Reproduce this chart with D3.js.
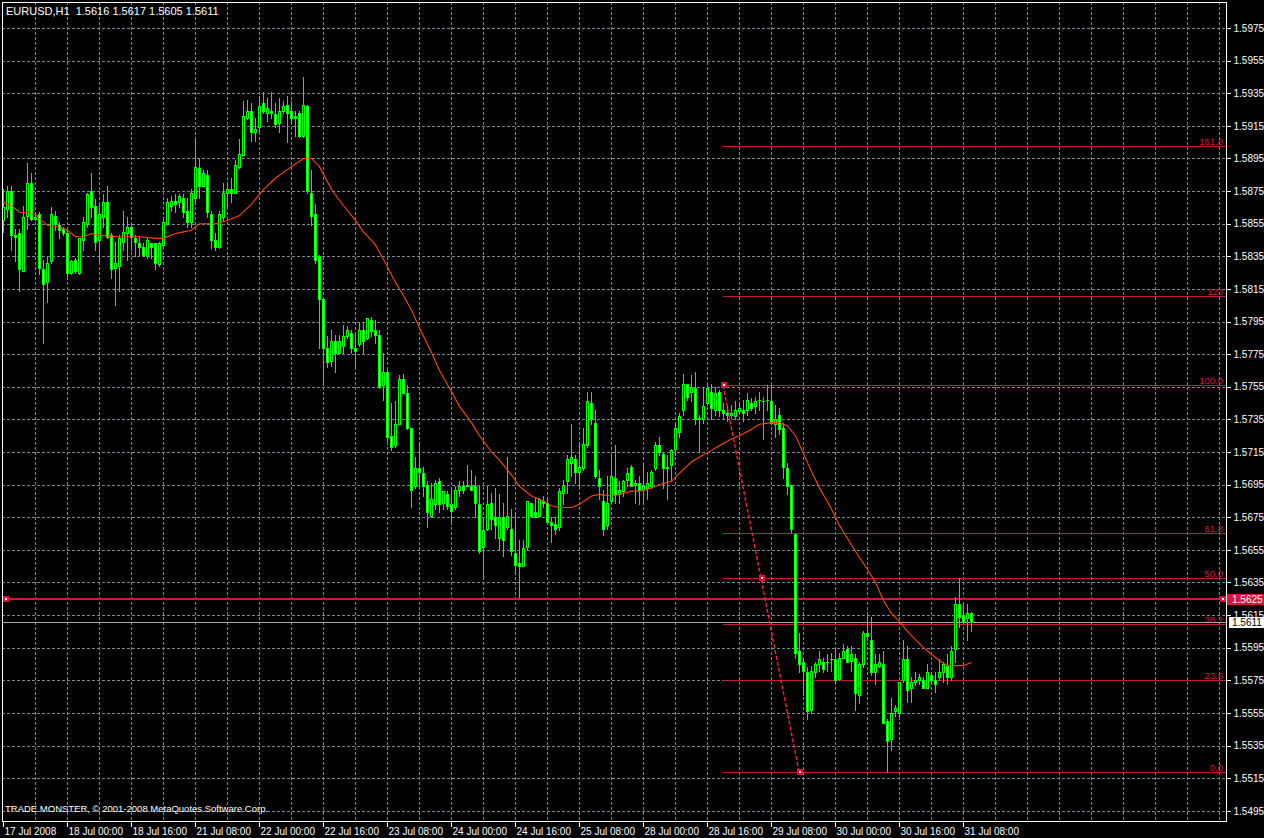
<!DOCTYPE html>
<html><head><meta charset="utf-8">
<script src="https://cdn.jsdelivr.net/npm/d3@7"></script>
<style>html,body{margin:0;padding:0;background:#000;overflow:hidden}svg{display:block}</style>
</head><body>
<script>
// ---- DATA (EURUSD H1, bars from 17 Jul 2008 08:00) ----
const opens=[1.5857,1.5864,1.5875,1.5848,1.5849,1.5826,1.5860,1.5880,1.5858,1.5861,
1.5827,1.5819,1.5832,1.5860,1.5854,1.5852,1.5849,1.5825,1.5833,1.5825,
1.5845,1.5855,1.5875,1.5866,1.5845,1.5859,1.5868,1.5848,1.5828,1.5829,
1.5844,1.5849,1.5853,1.5846,1.5843,1.5841,1.5835,1.5843,1.5843,1.5830,
1.5842,1.5855,1.5866,1.5869,1.5868,1.5871,1.5863,1.5856,1.5871,1.5889,
1.5878,1.5885,1.5861,1.5845,1.5841,1.5859,1.5874,1.5876,1.5874,1.5890,
1.5897,1.5920,1.5924,1.5911,1.5914,1.5929,1.5923,1.5924,1.5922,1.5917,
1.5924,1.5928,1.5924,1.5921,1.5923,1.5909,1.5927,1.5874,1.5861,1.5835,
1.5809,1.5779,1.5771,1.5783,1.5776,1.5780,1.5786,1.5788,1.5779,1.5781,
1.5790,1.5785,1.5796,1.5790,1.5787,1.5756,1.5764,1.5725,1.5719,1.5732,
1.5760,1.5751,1.5730,1.5694,1.5705,1.5702,1.5695,1.5676,1.5683,1.5697,
1.5684,1.5689,1.5683,1.5681,1.5692,1.5694,1.5694,1.5694,1.5694,1.5683,
1.5657,1.5668,1.5684,1.5675,1.5662,1.5675,1.5669,1.5668,1.5653,1.5647,
1.5645,1.5657,1.5684,1.5678,1.5676,1.5685,1.5684,1.5672,1.5671,1.5669,
1.5690,1.5697,1.5708,1.5711,1.5703,1.5705,1.5719,1.5745,1.5733,1.5699,
1.5685,1.5670,1.5685,1.5699,1.5689,1.5691,1.5698,1.5706,1.5695,1.5696,
1.5692,1.5693,1.5694,1.5705,1.5719,1.5714,1.5706,1.5707,1.5717,1.5727,
1.5741,1.5757,1.5752,1.5754,1.5736,1.5735,1.5745,1.5752,1.5741,1.5752,
1.5741,1.5739,1.5738,1.5737,1.5740,1.5741,1.5741,1.5745,1.5743,1.5747,
1.5746,1.5747,1.5746,1.5732,1.5738,1.5730,1.5705,1.5695,1.5665,1.5593,
1.5586,1.5580,1.5557,1.5580,1.5585,1.5586,1.5586,1.5588,1.5588,1.5576,
1.5589,1.5594,1.5587,1.5589,1.5566,1.5585,1.5604,1.5600,1.5580,1.5584,
1.5585,1.5550,1.5539,1.5556,1.5555,1.5575,1.5588,1.5570,1.5574,1.5575,
1.5575,1.5570,1.5578,1.5575,1.5577,1.5580,1.5584,1.5577,1.5594,1.5622,
1.5615,1.5613,1.5616];
const highs=[1.5876,1.5878,1.5878,1.5852,1.5852,1.5866,1.5892,1.5886,1.5861,1.5862,
1.5833,1.5835,1.5865,1.5863,1.5856,1.5853,1.5852,1.5833,1.5834,1.5846,
1.5859,1.5874,1.5886,1.5870,1.5867,1.5873,1.5878,1.5849,1.5844,1.5848,
1.5863,1.5859,1.5855,1.5848,1.5847,1.5843,1.5846,1.5843,1.5843,1.5844,
1.5859,1.5871,1.5872,1.5873,1.5873,1.5873,1.5871,1.5876,1.5907,1.5895,
1.5888,1.5888,1.5863,1.5849,1.5863,1.5880,1.5880,1.5883,1.5894,1.5907,
1.5930,1.5931,1.5929,1.5920,1.5933,1.5936,1.5932,1.5936,1.5929,1.5932,
1.5930,1.5933,1.5930,1.5924,1.5924,1.5945,1.5928,1.5888,1.5867,1.5836,
1.5809,1.5786,1.5790,1.5787,1.5787,1.5793,1.5792,1.5790,1.5788,1.5794,
1.5795,1.5797,1.5798,1.5796,1.5790,1.5776,1.5765,1.5745,1.5746,1.5762,
1.5763,1.5756,1.5730,1.5712,1.5721,1.5706,1.5697,1.5696,1.5698,1.5699,
1.5691,1.5691,1.5693,1.5694,1.5697,1.5697,1.5707,1.5704,1.5700,1.5694,
1.5675,1.5694,1.5690,1.5693,1.5689,1.5684,1.5712,1.5680,1.5678,1.5661,
1.5661,1.5685,1.5684,1.5687,1.5687,1.5688,1.5687,1.5675,1.5675,1.5693,
1.5698,1.5713,1.5732,1.5713,1.5721,1.5730,1.5752,1.5752,1.5741,1.5704,
1.5692,1.5700,1.5713,1.5719,1.5697,1.5698,1.5705,1.5707,1.5698,1.5700,
1.5707,1.5703,1.5704,1.5721,1.5724,1.5715,1.5713,1.5717,1.5732,1.5739,
1.5763,1.5757,1.5762,1.5764,1.5738,1.5755,1.5757,1.5757,1.5755,1.5753,
1.5745,1.5743,1.5744,1.5746,1.5745,1.5747,1.5751,1.5748,1.5749,1.5752,
1.5749,1.5756,1.5756,1.5744,1.5742,1.5733,1.5708,1.5695,1.5665,1.5604,
1.5588,1.5583,1.5584,1.5586,1.5593,1.5589,1.5591,1.5592,1.5594,1.5592,
1.5597,1.5596,1.5596,1.5591,1.5586,1.5605,1.5615,1.5614,1.5591,1.5591,
1.5593,1.5551,1.5564,1.5560,1.5574,1.5600,1.5596,1.5577,1.5580,1.5579,
1.5577,1.5585,1.5580,1.5580,1.5588,1.5586,1.5591,1.5596,1.5626,1.5638,
1.5622,1.5622,1.5617];
const lows=[1.5850,1.5859,1.5839,1.5832,1.5814,1.5826,1.5852,1.5857,1.5857,1.5824,
1.5782,1.5807,1.5831,1.5851,1.5846,1.5848,1.5821,1.5824,1.5825,1.5824,
1.5839,1.5853,1.5859,1.5839,1.5832,1.5853,1.5846,1.5822,1.5805,1.5814,
1.5839,1.5833,1.5839,1.5835,1.5835,1.5835,1.5834,1.5834,1.5827,1.5829,
1.5841,1.5855,1.5863,1.5862,1.5865,1.5859,1.5853,1.5853,1.5868,1.5871,
1.5878,1.5859,1.5840,1.5839,1.5840,1.5857,1.5866,1.5868,1.5874,1.5889,
1.5897,1.5919,1.5906,1.5906,1.5912,1.5923,1.5918,1.5920,1.5914,1.5911,
1.5923,1.5905,1.5917,1.5909,1.5908,1.5908,1.5874,1.5854,1.5831,1.5779,
1.5756,1.5767,1.5768,1.5764,1.5775,1.5776,1.5785,1.5776,1.5768,1.5780,
1.5776,1.5784,1.5786,1.5782,1.5754,1.5747,1.5722,1.5716,1.5718,1.5732,
1.5751,1.5729,1.5681,1.5693,1.5694,1.5688,1.5669,1.5675,1.5680,1.5678,
1.5680,1.5680,1.5673,1.5680,1.5688,1.5690,1.5694,1.5692,1.5675,1.5653,
1.5637,1.5667,1.5668,1.5662,1.5655,1.5651,1.5668,1.5652,1.5640,1.5626,
1.5645,1.5655,1.5675,1.5675,1.5675,1.5681,1.5672,1.5660,1.5665,1.5667,
1.5683,1.5690,1.5700,1.5696,1.5694,1.5704,1.5718,1.5732,1.5699,1.5686,
1.5664,1.5668,1.5684,1.5684,1.5684,1.5688,1.5694,1.5694,1.5684,1.5683,
1.5683,1.5686,1.5693,1.5704,1.5713,1.5693,1.5686,1.5698,1.5713,1.5724,
1.5738,1.5747,1.5746,1.5732,1.5715,1.5733,1.5744,1.5735,1.5738,1.5737,
1.5735,1.5734,1.5736,1.5735,1.5739,1.5734,1.5738,1.5741,1.5739,1.5741,
1.5723,1.5741,1.5733,1.5724,1.5726,1.5699,1.5689,1.5666,1.5589,1.5580,
1.5566,1.5551,1.5555,1.5577,1.5581,1.5580,1.5581,1.5581,1.5573,1.5575,
1.5589,1.5586,1.5581,1.5557,1.5561,1.5583,1.5600,1.5578,1.5573,1.5583,
1.5549,1.5519,1.5532,1.5553,1.5553,1.5574,1.5562,1.5562,1.5572,1.5573,
1.5570,1.5570,1.5573,1.5568,1.5575,1.5574,1.5573,1.5575,1.5586,1.5608,
1.5610,1.5600,1.5605];
const closes=[1.5865,1.5875,1.5848,1.5847,1.5827,1.5859,1.5880,1.5858,1.5859,1.5828,
1.5818,1.5831,1.5861,1.5855,1.5851,1.5849,1.5825,1.5832,1.5826,1.5846,
1.5856,1.5873,1.5865,1.5844,1.5861,1.5868,1.5847,1.5827,1.5831,1.5846,
1.5850,1.5853,1.5847,1.5844,1.5841,1.5836,1.5845,1.5841,1.5831,1.5843,
1.5856,1.5868,1.5869,1.5867,1.5872,1.5862,1.5856,1.5874,1.5890,1.5878,
1.5886,1.5862,1.5845,1.5841,1.5861,1.5874,1.5876,1.5874,1.5891,1.5898,
1.5921,1.5924,1.5911,1.5913,1.5927,1.5924,1.5926,1.5923,1.5916,1.5924,
1.5927,1.5923,1.5920,1.5920,1.5909,1.5928,1.5875,1.5860,1.5833,1.5809,
1.5779,1.5770,1.5783,1.5776,1.5783,1.5786,1.5790,1.5779,1.5777,1.5790,
1.5783,1.5797,1.5789,1.5787,1.5755,1.5764,1.5724,1.5718,1.5732,1.5760,
1.5751,1.5730,1.5692,1.5705,1.5703,1.5694,1.5678,1.5686,1.5696,1.5683,
1.5691,1.5682,1.5679,1.5692,1.5694,1.5692,1.5695,1.5692,1.5684,1.5654,
1.5667,1.5683,1.5674,1.5670,1.5675,1.5661,1.5676,1.5654,1.5646,1.5645,
1.5656,1.5685,1.5676,1.5675,1.5686,1.5684,1.5672,1.5670,1.5668,1.5691,
1.5695,1.5711,1.5712,1.5703,1.5706,1.5720,1.5746,1.5735,1.5700,1.5694,
1.5668,1.5684,1.5700,1.5689,1.5692,1.5697,1.5702,1.5694,1.5696,1.5692,
1.5694,1.5696,1.5703,1.5719,1.5715,1.5705,1.5705,1.5716,1.5730,1.5737,
1.5757,1.5749,1.5755,1.5735,1.5735,1.5743,1.5754,1.5742,1.5751,1.5741,
1.5739,1.5738,1.5739,1.5741,1.5742,1.5739,1.5747,1.5742,1.5746,1.5747,
1.5746,1.5747,1.5733,1.5735,1.5729,1.5706,1.5694,1.5668,1.5592,1.5585,
1.5581,1.5556,1.5581,1.5585,1.5588,1.5582,1.5586,1.5588,1.5575,1.5589,
1.5593,1.5586,1.5591,1.5567,1.5585,1.5604,1.5602,1.5580,1.5585,1.5586,
1.5549,1.5538,1.5555,1.5558,1.5574,1.5588,1.5569,1.5574,1.5575,1.5577,
1.5570,1.5580,1.5575,1.5573,1.5580,1.5585,1.5577,1.5593,1.5622,1.5614,
1.5611,1.5616,1.5611];

// moving average, read at sampled bars
const maBars=[0,2,4,8,9,11,14,16,18,20,22,24,28,32,34,38,40,43,45,47,49,53,56,59,62,65,68,72,75,77,79,82,85,88,90,93,95,98,100,102,104,107,109,112,114,117,119,122,124,127,129,132,134,137,139,142,144,147,149,152,154,157,159,162,164,167,169,172,174,177,179,182,184,187,189,192,194,196,198,200,202,204,207,209,211,213,216,218,220,222,224,226,228,230,232,234,236,238,240,242];
const maValues=[1.5868,1.5866,1.5862,1.5861,1.5858,1.5854,1.5853,1.5851,1.5847,1.5847,1.5849,1.5848,1.5847,1.5847,1.5847,1.5846,1.5846,1.5849,1.5850,1.5851,1.5855,1.5855,1.5857,1.5860,1.5867,1.5876,1.5883,1.5890,1.5895,1.5895,1.5890,1.5876,1.5866,1.5857,1.5850,1.5842,1.5833,1.5819,1.5811,1.5802,1.5791,1.5776,1.5765,1.5752,1.5743,1.5733,1.5725,1.5715,1.5710,1.5701,1.5694,1.5688,1.5686,1.5682,1.5681,1.5681,1.5683,1.5688,1.5689,1.5688,1.5689,1.5691,1.5691,1.5693,1.5695,1.5697,1.5702,1.5709,1.5712,1.5716,1.5719,1.5723,1.5725,1.5729,1.5732,1.5733,1.5733,1.5731,1.5725,1.5714,1.5703,1.5693,1.5680,1.5670,1.5662,1.5654,1.5643,1.5635,1.5624,1.5616,1.5611,1.5605,1.5600,1.5595,1.5591,1.5587,1.5584,1.5584,1.5584,1.5586];

const priceTicks=[1.5975,1.5955,1.5935,1.5915,1.5895,1.5875,1.5855,1.5835,1.5815,1.5795,1.5775,1.5755,1.5735,1.5715,1.5695,1.5675,1.5655,1.5635,1.5615,1.5595,1.5575,1.5555,1.5535,1.5515,1.5495];
const timeLabels=["17 Jul 2008","18 Jul 00:00","18 Jul 16:00","21 Jul 08:00","22 Jul 00:00","22 Jul 16:00","23 Jul 08:00","24 Jul 00:00","24 Jul 16:00","25 Jul 08:00","28 Jul 00:00","28 Jul 16:00","29 Jul 08:00","30 Jul 00:00","30 Jul 16:00","31 Jul 08:00"];
const timeLabelBars=[0,16,32,48,64,80,96,112,128,144,160,176,192,208,224,240];

const fibHigh=1.5756, fibLow=1.5519, fibStartBar=180, fibEndBar=199;
const fibLevels=[0,23.6,38.2,50,61.8,100,123,161.8];
const fibLabels=["0.0","23.6","38.2","50.0","61.8","100.0","123","161.8"];
const hLinePrice=1.5625;
const lastPrice=1.5611;
const titleText="EURUSD,H1\u00A0 1.5616 1.5617 1.5605 1.5611";
const footerText="TRADE MONSTER, \u00A9 2001-2008 MetaQuotes Software Corp.";

(function(){
// ---- CHART ----
const W=1264,H=838,L=2,T=2,R=1226,B=821;
const RED="#dc143c", LIME="#00ff00", GRID="#778899";
const svg=d3.select("body").append("svg").attr("width",W).attr("height",H)
  .style("background","#000").attr("font-family","'Liberation Sans',Arial,sans-serif");
const x=d3.scaleLinear().domain([0,305.75]).range([3,1226]);
const y=d3.scaleLinear().domain([1.5495,1.5975]).range([810.8,28]);
const px=v=>Math.round(x(v)), py=v=>Math.round(y(v));

svg.append("defs").append("clipPath").attr("id","c").append("rect")
  .attr("x",L).attr("y",T).attr("width",R-L).attr("height",B-T);

// grid
const grid=svg.append("g").attr("stroke",GRID).attr("stroke-dasharray","3,2").attr("shape-rendering","crispEdges");
grid.selectAll("line.h").data(priceTicks).join("line").attr("class","h")
  .attr("x1",L).attr("x2",R).attr("y1",d=>py(d)+0.5).attr("y2",d=>py(d)+0.5);
grid.selectAll("line.v").data(d3.range(8,306,8)).join("line").attr("class","v")
  .attr("x1",d=>px(d)+0.5).attr("x2",d=>px(d)+0.5).attr("y1",T).attr("y2",B);

// fib levels
const fib=svg.append("g").attr("clip-path","url(#c)");
fibLevels.forEach((lv,k)=>{
  const p=fibLow+(fibHigh-fibLow)*lv/100, yy=py(p)+0.5;
  fib.append("line").attr("x1",px(fibStartBar)).attr("x2",R).attr("y1",yy).attr("y2",yy)
    .attr("stroke","#c81838").attr("shape-rendering","crispEdges");
  fib.append("text").attr("x",R-3).attr("y",yy-2).attr("text-anchor","end")
    .attr("fill",RED).attr("font-size",9.5).text(fibLabels[k]);
});

// current price line and horizontal line
svg.append("line").attr("x1",L).attr("x2",R).attr("y1",py(lastPrice)+0.5).attr("y2",py(lastPrice)+0.5)
  .attr("stroke","#a8a8a8").attr("shape-rendering","crispEdges");
svg.append("rect").attr("x",L).attr("width",R-L).attr("y",py(hLinePrice)-1).attr("height",2).attr("fill",RED);

// candles
const idx=d3.range(opens.length);
const cg=svg.append("g").attr("clip-path","url(#c)").attr("shape-rendering","crispEdges");
cg.selectAll("rect.w").data(idx).join("rect").attr("class","w")
  .attr("x",i=>px(i)).attr("width",1)
  .attr("y",i=>py(highs[i])).attr("height",i=>py(lows[i])-py(highs[i])+1).attr("fill",LIME);
const bTop=i=>py(Math.max(opens[i],closes[i])), bBot=i=>py(Math.min(opens[i],closes[i]));
cg.selectAll("rect.b").data(idx).join("rect").attr("class","b")
  .attr("x",i=>px(i)-1).attr("width",3).attr("y",bTop).attr("height",i=>bBot(i)-bTop(i)+1).attr("fill",LIME);
cg.selectAll("rect.i").data(idx.filter(i=>bBot(i)-bTop(i)>=2)).join("rect").attr("class","i")
  .attr("x",i=>px(i)).attr("width",1).attr("y",i=>bTop(i)+1).attr("height",i=>bBot(i)-bTop(i)-1)
  .attr("fill",i=>closes[i]<opens[i]?"#ffffff":"#000000");

// moving average
svg.append("path").attr("clip-path","url(#c)")
  .attr("d",d3.line().x((d,k)=>x(maBars[k])+0.5).y(d=>y(d))(maValues))
  .attr("fill","none").attr("stroke","#ff4500").attr("stroke-width",1.1);

// fib trend line + anchors
const fa=[[fibStartBar,fibHigh],[fibEndBar,fibLow]];
svg.append("line").attr("x1",x(fa[0][0])).attr("y1",y(fa[0][1])).attr("x2",x(fa[1][0])).attr("y2",y(fa[1][1]))
  .attr("stroke","#ff1a3c").attr("stroke-width",1.4).attr("stroke-dasharray","4,2");
const anchors=[fa[0],[(fa[0][0]+fa[1][0])/2,(fa[0][1]+fa[1][1])/2],fa[1],[0.5,hLinePrice],[304.75,hLinePrice]];
anchors.forEach(a=>{
  const ax=Math.round(x(a[0])), ay=py(a[1]);
  svg.append("rect").attr("x",ax-2).attr("y",ay-3).attr("width",6).attr("height",6).attr("fill",RED).attr("shape-rendering","crispEdges");
  svg.append("rect").attr("x",ax).attr("y",ay-1).attr("width",2).attr("height",2).attr("fill","#fff").attr("shape-rendering","crispEdges");
});

// border
svg.append("rect").attr("x",L+0.5).attr("y",T+0.5).attr("width",R-L).attr("height",B-T)
  .attr("fill","none").attr("stroke","#fff").attr("shape-rendering","crispEdges");

// axes
const ya=svg.append("g").attr("transform",`translate(${R+0.5},0)`)
  .call(d3.axisRight(y).tickValues(priceTicks).tickFormat(d=>d.toFixed(4)).tickSize(4).tickPadding(3));
ya.select(".domain").remove();
ya.selectAll("line").attr("stroke","#fff").attr("shape-rendering","crispEdges");
ya.selectAll("text").attr("fill","#fff").attr("font-size",10).attr("font-family","'Liberation Sans',Arial,sans-serif");

const xa=svg.append("g").attr("transform",`translate(0,${B+0.5})`)
  .call(d3.axisBottom(x).tickValues(timeLabelBars).tickFormat((d,k)=>timeLabels[k]).tickSize(5).tickPadding(1));
xa.select(".domain").remove();
xa.selectAll(".tick").attr("transform",d=>`translate(${px(d)+0.5},0)`);
xa.selectAll("line").attr("stroke","#fff").attr("shape-rendering","crispEdges");
xa.selectAll("text").attr("fill","#fff").attr("font-size",10).attr("text-anchor","start").attr("x",1)
  .attr("font-family","'Liberation Sans',Arial,sans-serif");

// price labels (drawn over the axis, as in the terminal)
const hl=py(hLinePrice);
svg.append("rect").attr("x",R+1).attr("y",hl-5).attr("width",37).attr("height",11).attr("fill",RED);
svg.append("text").attr("x",R+6).attr("y",hl+4).attr("fill","#fff").attr("font-size",10).text(hLinePrice.toFixed(4));
const lp=py(lastPrice);
svg.append("rect").attr("x",R+3).attr("y",lp-5).attr("width",35).attr("height",11).attr("fill","#fff");
svg.append("text").attr("x",R+6).attr("y",lp+4).attr("fill","#000").attr("font-size",10).text(lastPrice.toFixed(4));

// texts
svg.append("text").attr("x",6).attr("y",15).attr("fill","#fff").attr("font-size",11).text(titleText);
svg.append("text").attr("x",5).attr("y",812).attr("fill","#fff").attr("font-size",9.5).text(footerText);
})();
</script>
</body></html>
